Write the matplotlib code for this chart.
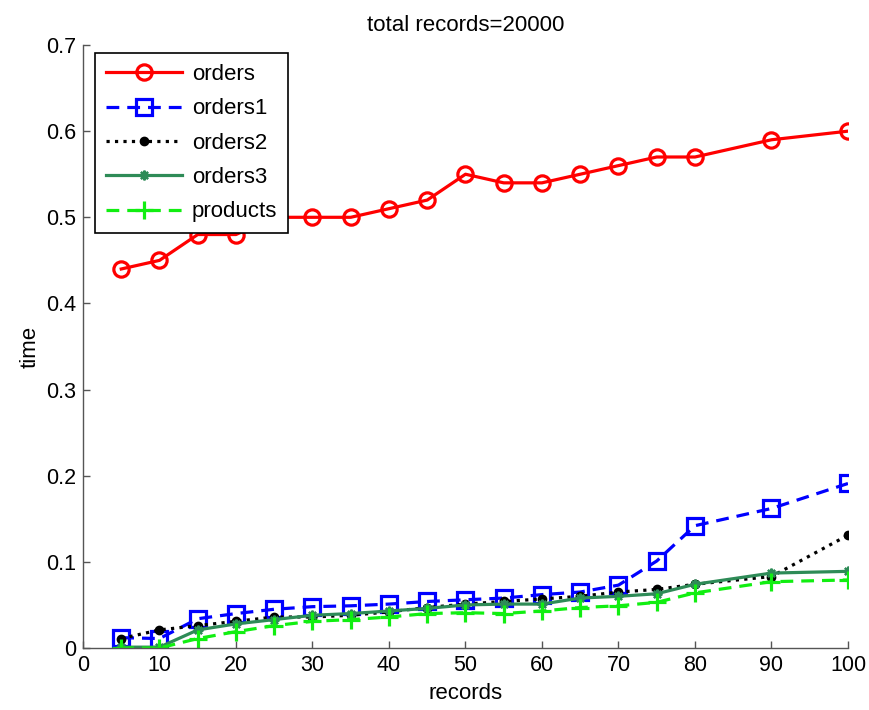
import matplotlib
matplotlib.use("Agg")
import matplotlib.pyplot as plt

plt.rcParams['font.family'] = ['Liberation Sans', 'DejaVu Sans']

records = [5, 10, 15, 20, 25, 30, 35, 40, 45, 50, 55, 60, 65, 70, 75, 80, 90, 100]

orders = [0.44, 0.45, 0.48, 0.48, 0.50, 0.50, 0.50, 0.51, 0.52, 0.55,
          0.54, 0.54, 0.55, 0.56, 0.57, 0.57, 0.59, 0.60]
orders1 = [0.012, 0.011, 0.034, 0.040, 0.045, 0.048, 0.049, 0.051, 0.054, 0.056,
           0.058, 0.062, 0.065, 0.073, 0.101, 0.142, 0.162, 0.191]
orders2 = [0.011, 0.021, 0.026, 0.031, 0.036, 0.036, 0.038, 0.042, 0.047, 0.051,
           0.054, 0.057, 0.060, 0.065, 0.068, 0.074, 0.083, 0.131]
orders3 = [0.001, 0.001, 0.021, 0.028, 0.033, 0.038, 0.040, 0.043, 0.046, 0.050,
           0.051, 0.051, 0.058, 0.060, 0.063, 0.074, 0.087, 0.089]
products = [0.0, 0.0, 0.011, 0.019, 0.026, 0.031, 0.033, 0.036, 0.040, 0.041,
            0.040, 0.043, 0.047, 0.049, 0.053, 0.064, 0.077, 0.079]

xticks = [0, 10, 20, 30, 40, 50, 60, 70, 80, 90, 100]
yticks = [0, 0.1, 0.2, 0.3, 0.4, 0.5, 0.6, 0.7]

fig = plt.figure(figsize=(8.69, 7.10), dpi=100)
ax = fig.add_axes([0.0955, 0.0873, 0.8803, 0.8493])

ax.plot(records, orders, '-o', color='#ff0000', lw=2.3, ms=11, mfc='none',
        mew=2.3, label='orders')
ax.plot(records, orders1, '--s', color='#0000ff', lw=2.3, ms=11, mfc='none',
        mew=2.3, label='orders1', dashes=(4, 2.5))
ax.plot(records, orders2, ':o', color='black', lw=2.3, ms=6,
        label='orders2')
ax.plot(records, orders3, '-', marker=(8, 2, 0), color='#2e8b57', lw=2.3,
        ms=7, mew=1.6, label='orders3')
ax.plot(records, products, '--+', color='#11ee11', lw=2.3, ms=13, mew=2.3,
        label='products', dashes=(4, 2.5))

ax.set_xlim(0, 100)
ax.set_ylim(0, 0.7)
ax.set_xticks(xticks)
ax.set_yticks(yticks)
ax.set_yticklabels(['0', '0.1', '0.2', '0.3', '0.4', '0.5', '0.6', '0.7'])

for side in ('top', 'right'):
    ax.spines[side].set_visible(False)
for side in ('left', 'bottom'):
    ax.spines[side].set_color('#555555')
    ax.spines[side].set_linewidth(1.0)
ax.tick_params(direction='in', length=5, width=1, colors='#555555',
               labelcolor='black', labelsize=15.5, pad=5)

ax.set_title('total records=20000', fontsize=16, pad=10)
ax.set_xlabel('records', fontsize=16, labelpad=5)
ax.set_ylabel('time', fontsize=16, labelpad=4)

leg = ax.legend(loc='upper left', bbox_to_anchor=(0.0157, 0.987),
                borderaxespad=0, fontsize=16, handlelength=3.4,
                labelspacing=0.6, handletextpad=0.45, borderpad=0.5,
                fancybox=False, framealpha=1, edgecolor='black')
leg.get_frame().set_linewidth(1.2)

fig.savefig('out.png', dpi=100)
